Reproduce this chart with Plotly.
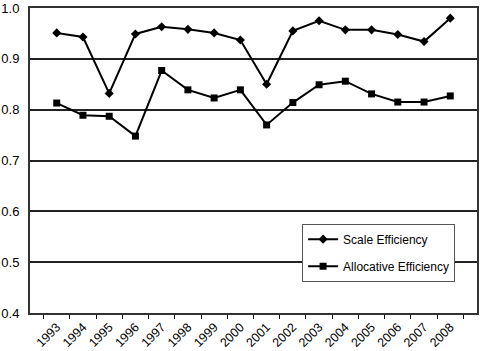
import plotly.graph_objects as go

years = [str(y) for y in range(1993, 2009)]
scale_eff = [0.951, 0.943, 0.832, 0.949, 0.963, 0.958, 0.951, 0.937,
             0.850, 0.955, 0.975, 0.957, 0.957, 0.948, 0.934, 0.980]
alloc_eff = [0.813, 0.789, 0.787, 0.748, 0.877, 0.839, 0.823, 0.839,
             0.770, 0.814, 0.849, 0.856, 0.831, 0.815, 0.815, 0.827]
y_ticks = [0.4, 0.5, 0.6, 0.7, 0.8, 0.9, 1.0]

fig = go.Figure()
fig.add_trace(go.Scatter(x=years, y=scale_eff, name="Scale Efficiency",
                         mode="lines+markers", legendgroup="a",
                         line=dict(color="black", width=2),
                         marker=dict(symbol="diamond", size=7, color="black")))
fig.add_trace(go.Scatter(x=years, y=alloc_eff, name="Allocative Efficiency",
                         mode="lines+markers", legendgroup="b",
                         line=dict(color="black", width=2),
                         marker=dict(symbol="square", size=7, color="black")))

fig.update_layout(
    width=480, height=351,
    margin=dict(l=29, r=1, t=5, b=38),
    paper_bgcolor="white", plot_bgcolor="white",
    font=dict(family="Arial, Liberation Sans, sans-serif", size=12, color="black"),
    showlegend=True,
    legend=dict(x=0.951, y=0.293, xanchor="right", yanchor="top",
                bordercolor="#555", borderwidth=1, bgcolor="white",
                font=dict(size=12), traceorder="grouped", tracegroupgap=8,
                itemwidth=30),
    xaxis=dict(type="category", tickangle=-45, ticks="outside", tickson="boundaries",
               ticklen=4, tickcolor="black", showline=True, linecolor="#333",
               linewidth=2, mirror=True, showgrid=False, tickfont=dict(size=12.5)),
    yaxis=dict(range=[0.4, 1.0], tickvals=y_ticks, ticktext=[f"{v:.1f}" for v in y_ticks],
               showgrid=True, gridcolor="#222", gridwidth=1.5, showline=True,
               linecolor="#333", linewidth=2, mirror=True, ticks="",
               tickfont=dict(size=13), zeroline=False, ticklabeloverflow="allow",
               ticklabelstandoff=6),
)

fig.write_html("out.html")
